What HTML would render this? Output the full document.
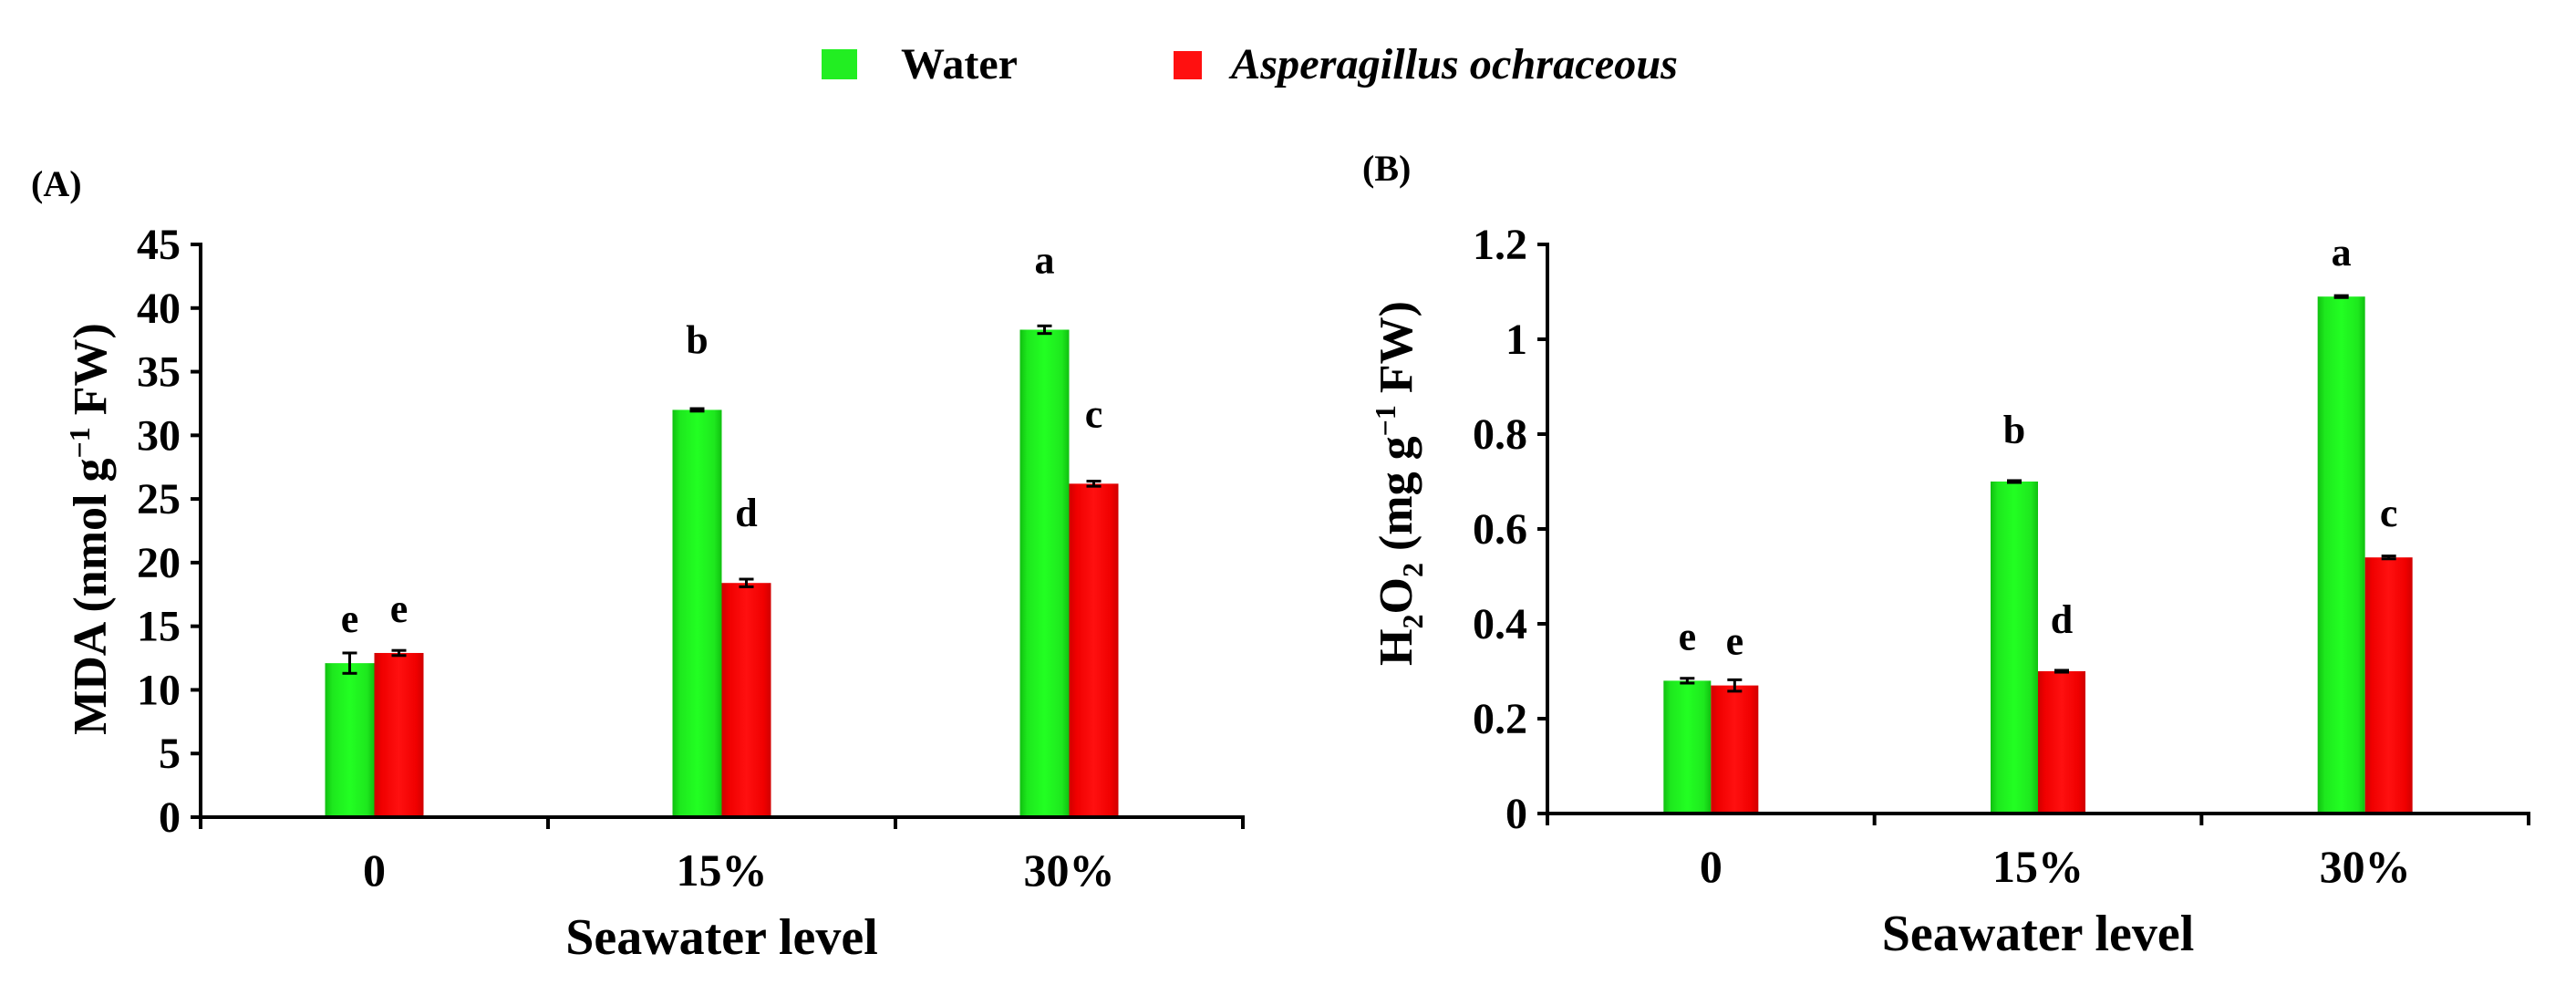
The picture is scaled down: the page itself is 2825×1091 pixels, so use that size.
<!DOCTYPE html>
<html><head><meta charset="utf-8">
<style>
html,body{margin:0;padding:0;background:#fff;}
svg{display:block;font-family:"Liberation Serif",serif;font-weight:bold;}
</style></head>
<body>
<svg id="chart" width="2825" height="1091" viewBox="0 0 2825 1091" xmlns="http://www.w3.org/2000/svg">
<defs>
<linearGradient id="gG" x1="0" x2="1" y1="0" y2="0"><stop offset="0" stop-color="#10c010"/><stop offset="0.15" stop-color="#1ee81e"/><stop offset="0.5" stop-color="#22ff22"/><stop offset="0.85" stop-color="#1ee81e"/><stop offset="1" stop-color="#10c010"/></linearGradient>
<linearGradient id="gR" x1="0" x2="1" y1="0" y2="0"><stop offset="0" stop-color="#d00000"/><stop offset="0.15" stop-color="#f00000"/><stop offset="0.5" stop-color="#ff1010"/><stop offset="0.85" stop-color="#f00000"/><stop offset="1" stop-color="#d00000"/></linearGradient>
</defs>
<g>
<rect x="901" y="54" width="39" height="33" fill="#22ee22"/>
<text x="988" y="86" font-size="48">Water</text>
<rect x="1287" y="56" width="31" height="31" fill="#ff1010"/>
<text x="1350" y="86" font-size="48" font-style="italic" textLength="490" lengthAdjust="spacingAndGlyphs">Asperagillus  ochraceous</text>
</g>
<g id="pA"></g>
<g id="pB"></g>
</svg>
<script>
const categories = ["0", "15%", "30%"];
const mdaWater = [12.1, 32.0, 38.3];
const mdaWaterErr = [0.8, 0.1, 0.3];
const mdaAsp = [12.9, 18.4, 26.2];
const mdaAspErr = [0.2, 0.3, 0.2];
const mdaLettersWater = ["e", "b", "a"];
const mdaLettersAsp = ["e", "d", "c"];
const mdaTicks = [0, 5, 10, 15, 20, 25, 30, 35, 40, 45];

const h2o2Water = [0.28, 0.70, 1.09];
const h2o2WaterErr = [0.005, 0.002, 0.002];
const h2o2Asp = [0.27, 0.30, 0.54];
const h2o2AspErr = [0.012, 0.002, 0.003];
const h2o2LettersWater = ["e", "b", "a"];
const h2o2LettersAsp = ["e", "d", "c"];
const h2o2Ticks = [0, 0.2, 0.4, 0.6, 0.8, 1, 1.2];

const NS = "http://www.w3.org/2000/svg";
function mk(parent, tag, attrs, text) {
  const e = document.createElementNS(NS, tag);
  for (const k in attrs) e.setAttribute(k, attrs[k]);
  if (text !== undefined) e.textContent = text;
  parent.appendChild(e);
  return e;
}

function drawPanel(g, cfg) {
  const yScale = v => cfg.y0 - (v - cfg.min) / (cfg.max - cfg.min) * (cfg.y0 - cfg.yTop);
  const catW = (cfg.xEnd - cfg.x0) / categories.length;
  const xCenter = i => cfg.x0 + catW * (i + 0.5);
  let t = mk(g, "text", {x: cfg.labelX, y: cfg.labelY, "font-size": 40}, cfg.label);
  
  
  categories.forEach((c, i) => {
    const cx = xCenter(i);
    [[cfg.w, cfg.we, "url(#gG)", cfg.lw, -1, "water"], [cfg.a, cfg.ae, "url(#gR)", cfg.la, 0, "asperagillus"]].forEach(s => {
      const v = s[0][i], e = s[1][i];
      const bx = cx + s[4] * cfg.bw;
      const top = yScale(v);
      const r = mk(g, "rect", {x: bx, y: top, width: cfg.bw, height: cfg.y0 - top, fill: s[2]});
      
      
      const ex = bx + cfg.bw / 2;
      const eg = mk(g, "g", {stroke: "#000", "stroke-width": 3});
      
      
      const yh = yScale(v + e), yl = yScale(v - e);
      mk(eg, "line", {x1: ex, x2: ex, y1: yh, y2: yl});
      mk(eg, "line", {x1: ex - 8, x2: ex + 8, y1: yh, y2: yh});
      mk(eg, "line", {x1: ex - 8, x2: ex + 8, y1: yl, y2: yl});
      const lt = mk(g, "text", {x: ex, y: top - cfg.letterGap[i], "font-size": 44, "text-anchor": "middle"}, s[3][i]);
      
      
    });
    const cl = mk(g, "text", {x: cx, y: cfg.y0 + 75, "font-size": 50, "text-anchor": "middle"}, c);
    
    
  });
  const ax = mk(g, "g", {stroke: "#000", "stroke-width": 4, fill: "none"});
  
  
  mk(ax, "line", {x1: cfg.x0, x2: cfg.x0, y1: cfg.yTop - 2, y2: cfg.y0 + 12});
  mk(ax, "line", {x1: cfg.x0 - 2, x2: cfg.xEnd + 2, y1: cfg.y0, y2: cfg.y0});
  for (let i = 0; i <= categories.length; i++) {
    const x = cfg.x0 + catW * i;
    mk(ax, "line", {x1: x, x2: x, y1: cfg.y0, y2: cfg.y0 + 13});
  }
  cfg.ticks.forEach(v => {
    const y = yScale(v);
    mk(ax, "line", {x1: cfg.x0 - 11, x2: cfg.x0, y1: y, y2: y});
    const tl = mk(g, "text", {x: cfg.x0 - 22, y: y + 16, "font-size": 48, "text-anchor": "end"}, String(v));
    
    
  });
  const xt = mk(g, "text", {x: cfg.x0 + catW * 1.5, y: cfg.y0 + 150, "font-size": 56, "text-anchor": "middle"}, "Seawater level");
  
  
  const yt = mk(g, "text", {x: 0, y: 0, "font-size": 52, "text-anchor": "middle", transform: `translate(${cfg.ytX},${cfg.ytY}) rotate(-90)`});
  
  
  yt.innerHTML = cfg.ytitle;
}

drawPanel(document.getElementById("pA"), {
  label: "(A)", labelX: 34, labelY: 215,
  x0: 220, xEnd: 1363, y0: 896, yTop: 268, min: 0, max: 45, bw: 54,
  w: mdaWater, we: mdaWaterErr, a: mdaAsp, ae: mdaAspErr,
  lw: mdaLettersWater, la: mdaLettersAsp, ticks: mdaTicks, letterGap: [34, 62, 62],
  ytX: 116, ytY: 580,
  ytitle: 'MDA (nmol g<tspan dy="-18" font-size="32">−1</tspan><tspan dy="18"> FW)</tspan>'
});
drawPanel(document.getElementById("pB"), {
  label: "(B)", labelX: 1494, labelY: 198,
  x0: 1697, xEnd: 2773, y0: 892, yTop: 268, min: 0, max: 1.2, bw: 52,
  w: h2o2Water, we: h2o2WaterErr, a: h2o2Asp, ae: h2o2AspErr,
  lw: h2o2LettersWater, la: h2o2LettersAsp, ticks: h2o2Ticks, letterGap: [34, 42, 34],
  ytX: 1548, ytY: 530,
  ytitle: 'H<tspan dy="12" font-size="32">2</tspan><tspan dy="-12">O</tspan><tspan dy="12" font-size="32">2</tspan><tspan dy="-12"> (mg g</tspan><tspan dy="-18" font-size="32">−1</tspan><tspan dy="18"> FW)</tspan>'
});
</script>
</body></html>
